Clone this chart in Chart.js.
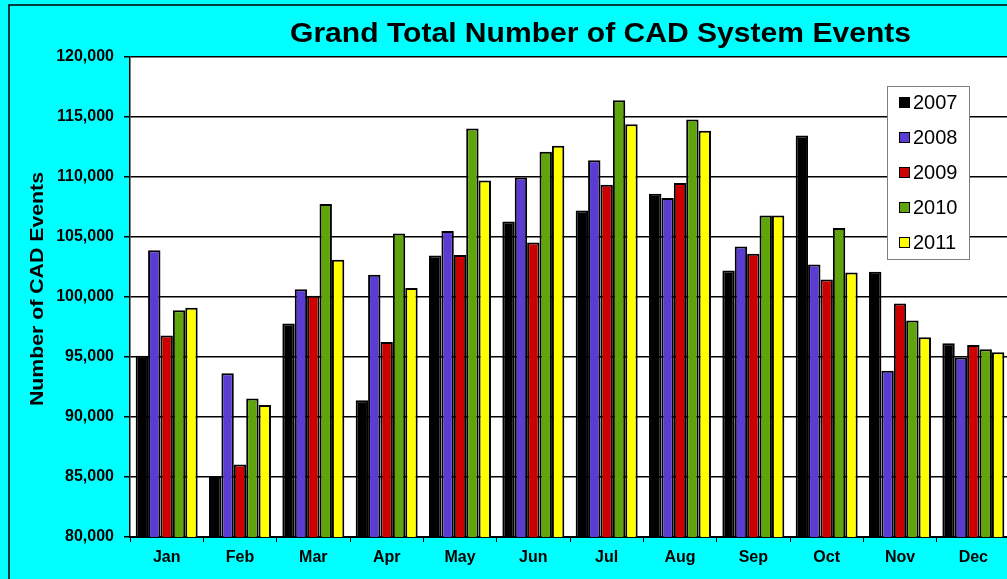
<!DOCTYPE html>
<html>
<head>
<meta charset="utf-8">
<script src="https://cdn.jsdelivr.net/npm/chart.js@4.4.1/dist/chart.umd.min.js"></script>
<style>
html, body { margin: 0; padding: 0; overflow: hidden; background: #00ffff; }
#wrap { position: absolute; left: 0; top: 0; width: 1030px; height: 579px; }
</style>
</head>
<body>
<div id="wrap"><canvas id="c"></canvas></div>
<script>
const chartTitle = 'Grand Total Number of CAD System Events';
const yAxisTitle = 'Number of CAD Events';
const months = ['Jan','Feb','Mar','Apr','May','Jun','Jul','Aug','Sep','Oct','Nov','Dec'];
const seriesNames = ['2007','2008','2009','2010','2011'];
const seriesColors = ['#000000','#5a3cd2','#cc0000','#5fa40a','#ffff00'];
const y2007 = [95100, 85000, 97800, 91400, 103450, 106300, 107200, 108600, 102200, 113450, 102100, 96150];
const y2008 = [103900, 93650, 100650, 101850, 105500, 109950, 111400, 108250, 104200, 102700, 93850, 94950];
const y2009 = [96800, 86050, 100100, 96250, 103500, 104550, 109350, 109500, 103600, 101450, 99450, 96000];
const y2010 = [98900, 91550, 107750, 105300, 114050, 112100, 116400, 114800, 106800, 105750, 98050, 95650];
const y2011 = [99100, 91000, 103100, 100750, 109700, 112600, 114400, 113850, 106800, 102050, 96650, 95400];
const yMin = 80000, yMax = 120000, yStep = 5000;

const seriesData = [y2007, y2008, y2009, y2010, y2011];

const decorPlugin = {
  id: 'decor',
  beforeDraw(chart) {
    const ctx = chart.ctx, a = chart.chartArea;
    ctx.save();
    ctx.fillStyle = '#00ffff';
    ctx.fillRect(0, 0, chart.width, chart.height);
    ctx.fillStyle = '#ffffff';
    ctx.fillRect(a.left, a.top, a.right - a.left, a.bottom - a.top);
    ctx.strokeStyle = '#000';
    ctx.lineWidth = 1.5;
    ctx.beginPath();
    ctx.moveTo(9, chart.height);
    ctx.lineTo(9, 5);
    ctx.lineTo(chart.width, 5);
    ctx.stroke();
    ctx.restore();
  },
  afterDraw(chart) {
    const ctx = chart.ctx;
    ctx.save();
    // title
    ctx.fillStyle = '#000';
    ctx.font = 'bold 27px "Liberation Sans", Arial, sans-serif';
    ctx.textBaseline = 'alphabetic';
    ctx.textAlign = 'left';
    let w = ctx.measureText(chartTitle).width;
    let sx = 621 / w;
    ctx.save();
    ctx.translate(290, 42);
    ctx.scale(sx, 1);
    ctx.fillText(chartTitle, 0, 0);
    ctx.restore();
    // y title
    ctx.font = 'bold 18px "Liberation Sans", Arial, sans-serif';
    w = ctx.measureText(yAxisTitle).width;
    sx = 234 / w;
    ctx.save();
    ctx.translate(38, 289);
    ctx.rotate(-Math.PI / 2);
    ctx.scale(sx, 1);
    ctx.textAlign = 'center';
    ctx.textBaseline = 'middle';
    ctx.fillText(yAxisTitle, 0, 0);
    ctx.restore();
    // legend
    const lx = 887, ly = 86, lw = 82, lh = 173;
    ctx.fillStyle = '#fff';
    ctx.fillRect(lx, ly, lw, lh);
    ctx.strokeStyle = '#7f7f7f';
    ctx.lineWidth = 1;
    ctx.strokeRect(lx + 0.5, ly + 0.5, lw, lh);
    ctx.font = '20px "Liberation Sans", Arial, sans-serif';
    ctx.textAlign = 'left';
    ctx.textBaseline = 'middle';
    chart.data.datasets.forEach((ds, i) => {
      const cy = 102 + i * 35;
      ctx.fillStyle = ds.backgroundColor;
      ctx.fillRect(899, cy - 5, 10, 10);
      ctx.strokeStyle = '#000';
      ctx.strokeRect(899.5, cy - 4.5, 10, 10);
      ctx.fillStyle = '#000';
      ctx.fillText(ds.label, 913, cy + 1);
    });
    ctx.restore();
  }
};

const datasets = seriesNames.map((name, i) => ({
  label: name,
  data: seriesData[i],
  backgroundColor: seriesColors[i],
  borderColor: '#000',
  borderWidth: 2,
  barPercentage: 1.0,
  categoryPercentage: 0.845
}));

new Chart(document.getElementById('c'), {
  type: 'bar',
  data: { labels: months, datasets },
  plugins: [decorPlugin],
  options: {
    responsive: true,
    maintainAspectRatio: false,
    devicePixelRatio: 1,
    animation: false,
    layout: { padding: { left: 0, right: 20, top: 57, bottom: 0 } },
    plugins: { legend: { display: false }, title: { display: false }, tooltip: { enabled: false } },
    scales: {
      x: {
        offset: true,
        grid: { display: true, drawOnChartArea: false, drawTicks: true, tickLength: 5, color: '#000', lineWidth: 1, offset: true },
        border: { display: true, color: '#000', width: 2 },
        ticks: { color: '#000', padding: 6, font: { family: '"Liberation Sans", Arial, sans-serif', size: 16, weight: 'bold' }, maxRotation: 0, autoSkip: false },
        afterFit(s) { s.height = 42; }
      },
      y: {
        min: yMin, max: yMax,
        grid: { color: '#000', lineWidth: 1.5, tickLength: 6, drawTicks: true },
        border: { display: true, color: '#000', width: 1.5 },
        ticks: {
          stepSize: yStep, color: '#000', padding: 10,
          font: { family: '"Liberation Sans", Arial, sans-serif', size: 16, weight: 'bold' },
          callback: v => v.toLocaleString('en-US')
        },
        afterFit(s) { s.width = 130; }
      }
    }
  }
});
</script>
</body>
</html>
